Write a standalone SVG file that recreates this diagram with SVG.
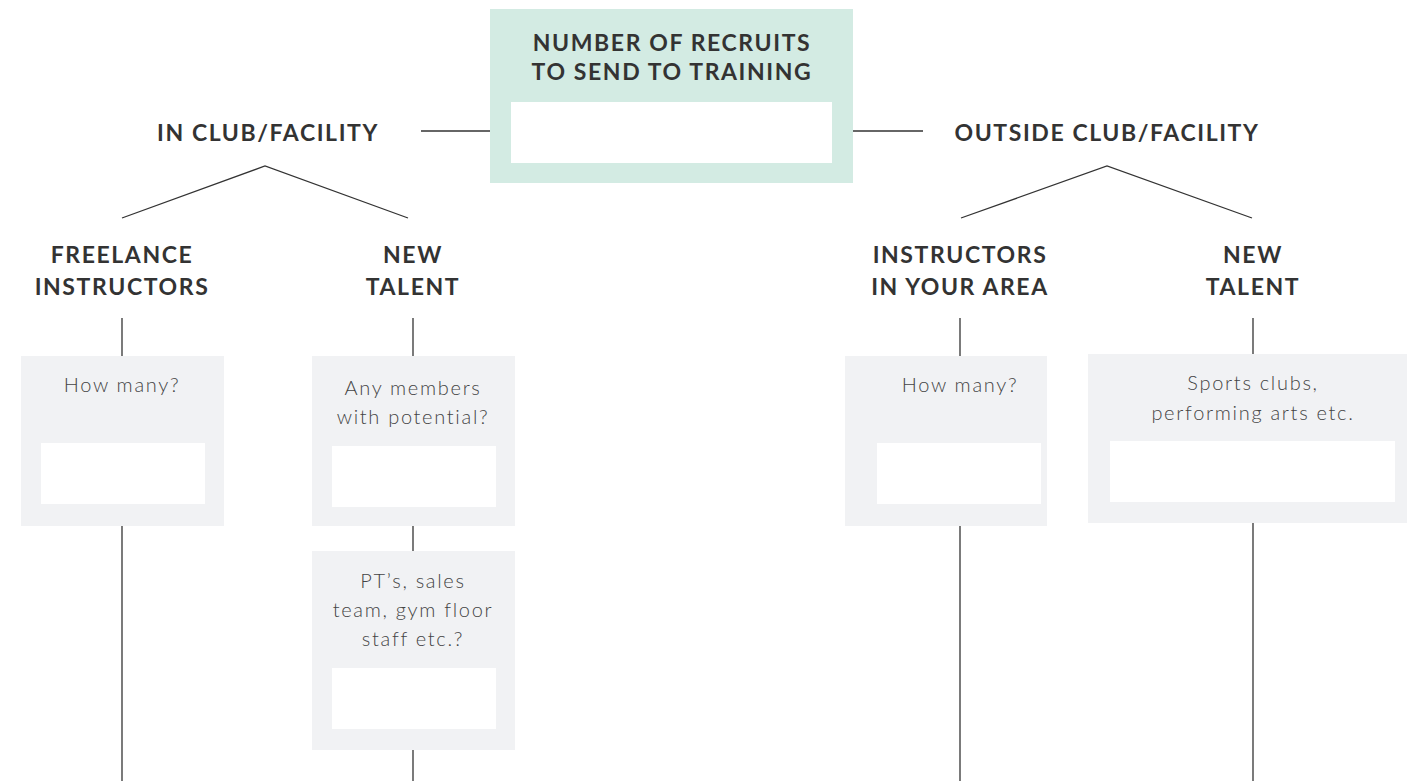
<svg xmlns="http://www.w3.org/2000/svg" width="1407" height="781" viewBox="0 0 1407 781">
<style>
.h{font-family:Lato,"Open Sans","Liberation Sans",sans-serif;font-weight:700;font-size:23px;fill:#333;text-anchor:middle;letter-spacing:1.6px}
.b{font-family:Lato,"Open Sans","Liberation Sans",sans-serif;font-weight:300;font-size:20px;fill:#444;text-anchor:middle;letter-spacing:1.7px}
.g{fill:#f1f2f4}
.w{fill:#fff}
.c{stroke:#333;stroke-width:1.3;fill:none}
</style>
<rect width="1407" height="781" fill="#fff"/>
<g id="connectors">
<line class="c" x1="421" y1="131" x2="490" y2="131"/>
<line class="c" x1="853" y1="131" x2="923" y2="131"/>
<polyline class="c" points="122,218 265,166 408,218"/>
<polyline class="c" points="961,218 1107,166 1252,218"/>
<line class="c" x1="122" y1="318" x2="122" y2="356"/>
<line class="c" x1="413" y1="318" x2="413" y2="356"/>
<line class="c" x1="960" y1="318" x2="960" y2="356"/>
<line class="c" x1="1253" y1="318" x2="1253" y2="354"/>
<line class="c" x1="122" y1="526" x2="122" y2="781"/>
<line class="c" x1="413" y1="526" x2="413" y2="551"/>
<line class="c" x1="413" y1="750" x2="413" y2="781"/>
<line class="c" x1="960" y1="526" x2="960" y2="781"/>
<line class="c" x1="1253" y1="523" x2="1253" y2="781"/>
</g>
<g id="root">
<rect x="490" y="9" width="363" height="174" fill="#d3ebe3"/>
<rect class="w" x="511" y="102" width="321" height="61"/>
<text class="h" x="672" y="51">NUMBER OF RECRUITS</text>
<text class="h" x="672" y="80">TO SEND TO TRAINING</text>
</g>
<g id="in-club"><text class="h" x="268" y="141">IN CLUB/FACILITY</text></g>
<g id="outside-club"><text class="h" x="1107" y="141">OUTSIDE CLUB/FACILITY</text></g>
<g id="freelance"><text class="h" x="122" y="263">FREELANCE</text><text class="h" x="122" y="295">INSTRUCTORS</text></g>
<g id="new-talent-in"><text class="h" x="413" y="263">NEW</text><text class="h" x="413" y="295">TALENT</text></g>
<g id="instructors-area"><text class="h" x="960" y="263">INSTRUCTORS</text><text class="h" x="960" y="295">IN YOUR AREA</text></g>
<g id="new-talent-out"><text class="h" x="1253" y="263">NEW</text><text class="h" x="1253" y="295">TALENT</text></g>
<g id="how-many-1">
<rect class="g" x="21" y="356" width="203" height="170"/>
<rect class="w" x="41" y="443" width="164" height="61"/>
<text class="b" x="122" y="392">How many?</text>
</g>
<g id="members">
<rect class="g" x="312" y="356" width="203" height="170"/>
<rect class="w" x="332" y="446" width="164" height="61"/>
<text class="b" x="413" y="395">Any members</text>
<text class="b" x="413" y="424">with potential?</text>
</g>
<g id="staff">
<rect class="g" x="312" y="551" width="203" height="199"/>
<rect class="w" x="332" y="668" width="164" height="61"/>
<text class="b" x="413" y="588">PT’s, sales</text>
<text class="b" x="413" y="617">team, gym floor</text>
<text class="b" x="413" y="646">staff etc.?</text>
</g>
<g id="how-many-2">
<rect class="g" x="845" y="356" width="202" height="170"/>
<rect class="w" x="877" y="443" width="164" height="61"/>
<text class="b" x="960" y="392">How many?</text>
</g>
<g id="sports">
<rect class="g" x="1088" y="354" width="319" height="169"/>
<rect class="w" x="1110" y="441" width="285" height="61"/>
<text class="b" x="1253" y="390">Sports clubs,</text>
<text class="b" x="1253" y="420">performing arts etc.</text>
</g>
</svg>
